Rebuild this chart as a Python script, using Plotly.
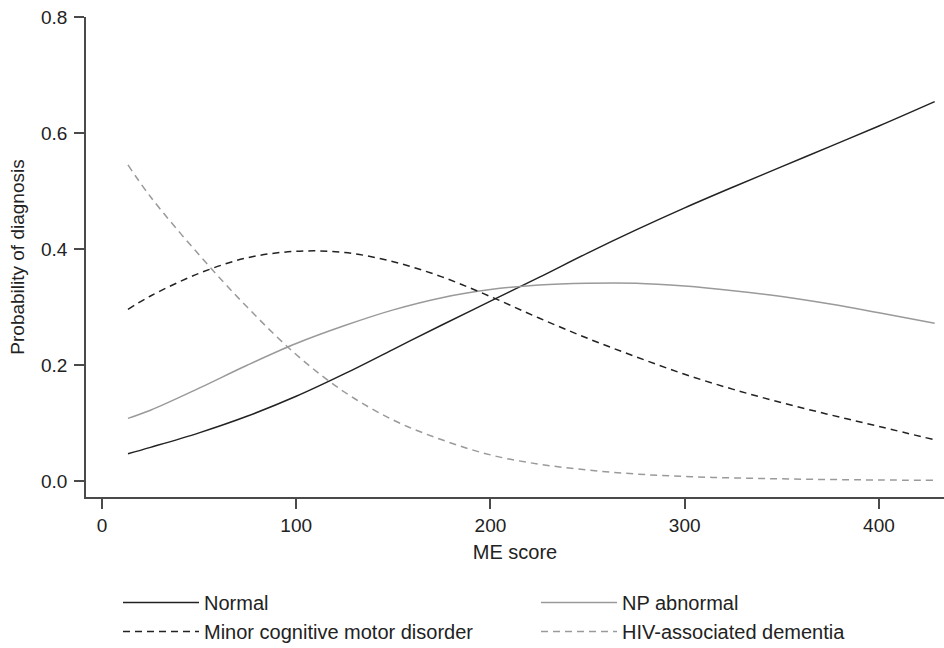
import plotly.graph_objects as go

me_score = [13.4, 25, 50, 75, 100, 125, 150, 175, 200, 225, 250, 275, 300, 325, 350, 375, 400, 428.7]

normal = [0.047, 0.058, 0.083, 0.112, 0.146, 0.185, 0.227, 0.269, 0.310, 0.351, 0.393,
          0.433, 0.471, 0.507, 0.542, 0.577, 0.612, 0.654]
np_abnormal = [0.108, 0.122, 0.160, 0.200, 0.237, 0.268, 0.295, 0.316, 0.330, 0.338, 0.341,
               0.341, 0.336, 0.328, 0.318, 0.305, 0.290, 0.272]
mcmd = [0.296, 0.319, 0.358, 0.385, 0.396, 0.394, 0.378, 0.352, 0.318, 0.281, 0.246,
        0.214, 0.184, 0.158, 0.135, 0.114, 0.094, 0.071]
had = [0.545, 0.490, 0.390, 0.299, 0.218, 0.153, 0.105, 0.071, 0.045, 0.029, 0.019,
       0.012, 0.0078, 0.0053, 0.0037, 0.0025, 0.0017, 0.0012]

x_ticks = [0, 100, 200, 300, 400]
y_ticks = [0.0, 0.2, 0.4, 0.6, 0.8]

dark = "#222222"
gray = "#9a9a9a"
axis_col = "#4a4a4a"

fig = go.Figure()
fig.add_trace(go.Scatter(x=me_score, y=normal, mode="lines", name="Normal", legend="legend",
                         line=dict(color=dark, width=1.5, shape="spline")))
fig.add_trace(go.Scatter(x=me_score, y=np_abnormal, mode="lines", name="NP abnormal", legend="legend2",
                         line=dict(color=gray, width=1.5, shape="spline")))
fig.add_trace(go.Scatter(x=me_score, y=mcmd, mode="lines", name="Minor cognitive motor disorder",
                         legend="legend",
                         line=dict(color=dark, width=1.5, dash="7px,5px", shape="spline")))
fig.add_trace(go.Scatter(x=me_score, y=had, mode="lines", name="HIV-associated dementia",
                         legend="legend2",
                         line=dict(color=gray, width=1.5, dash="7px,5px", shape="spline")))

legend_common = dict(orientation="v", xanchor="left", y=-0.179, yanchor="top",
                     itemwidth=76, font=dict(size=20, color=dark),
                     bgcolor="rgba(0,0,0,0)", traceorder="normal")

fig.update_layout(
    width=944, height=648,
    margin=dict(l=86, r=0, t=17, b=151, autoexpand=False),
    paper_bgcolor="white", plot_bgcolor="white",
    font=dict(family="Liberation Sans, Arial, sans-serif", size=20, color=dark),
    showlegend=True,
    legend=dict(x=0.0373, **legend_common),
    legend2=dict(x=0.5245, **legend_common),
)
fig.update_xaxes(range=[-8.2, 433.5], tickvals=x_ticks, ticks="outside", ticklen=10,
                 tickwidth=1.5, tickcolor=axis_col, showline=True, linecolor=axis_col,
                 linewidth=1.5, showgrid=False, zeroline=False, automargin=False,
                 tickfont=dict(size=19, color=dark),
                 title=dict(text="ME score", font=dict(size=20, color=dark), standoff=10))
fig.update_yaxes(range=[-0.0276, 0.8], tickvals=y_ticks, tickformat=".1f", ticks="outside",
                 ticklen=10, tickwidth=1.5, tickcolor=axis_col, showline=True, linecolor=axis_col,
                 linewidth=1.5, showgrid=False, zeroline=False, automargin=False,
                 ticklabelstandoff=3,
                 tickfont=dict(size=19, color=dark),
                 title=dict(text="Probability of diagnosis", font=dict(size=19, color=dark), standoff=11))

fig.write_html("out.html", config={"displayModeBar": False},
               post_script="document.body.style.margin='0';")
